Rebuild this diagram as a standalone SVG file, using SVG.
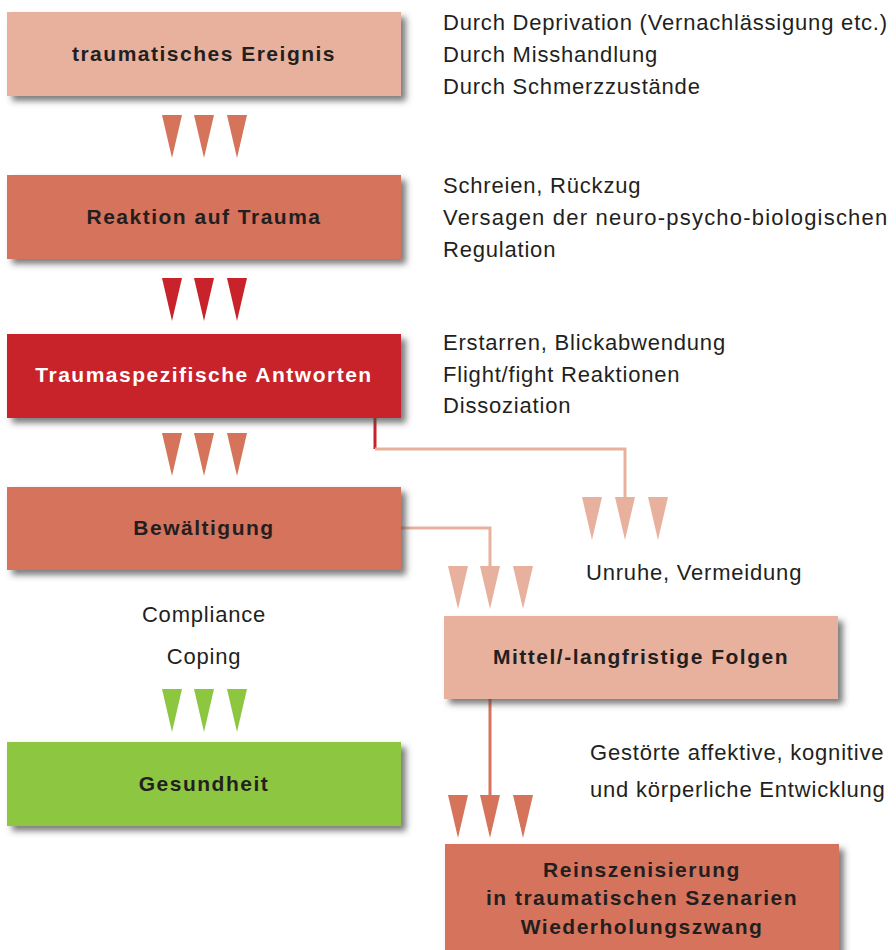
<svg xmlns="http://www.w3.org/2000/svg" width="896" height="950" viewBox="0 0 896 950">
<defs>
<filter id="sh" x="-5%" y="-10%" width="115%" height="130%">
<feDropShadow dx="5" dy="5" stdDeviation="3" flood-color="#444" flood-opacity="0.7"/>
</filter>
<style>
.bl{font-family:"Liberation Sans",Arial,sans-serif;font-weight:bold;font-size:21px;letter-spacing:1.5px;text-anchor:middle;fill:#231f20}
.bw{fill:#fff}
.tx{font-family:"Liberation Sans",Arial,sans-serif;font-size:22px;letter-spacing:0.8px;fill:#231f20}
.c1{fill:#E8B19D}.c2{fill:#D6735B}.c3{fill:#C8232B}.c4{fill:#8DC63F}
</style>
<polygon id="tri" points="-10,0 10,0 0,43"/>
</defs>
<rect width="896" height="950" fill="#fff"/>
<g id="connectors" fill="none" stroke-width="3">
<polyline points="375,418 375,449" stroke="#C8232B"/>
<polyline points="375,449 625,449 625,500" stroke="#E8B19D"/>
<polyline points="401,528 490,528 490,570" stroke="#E8B19D"/>
<polyline points="490,699 490,800" stroke="#D6735B"/>
</g>
<g id="arrows">
<g class="c2"><use href="#tri" x="172" y="115"/><use href="#tri" x="204" y="115"/><use href="#tri" x="237" y="115"/></g>
<g class="c3"><use href="#tri" x="172" y="278"/><use href="#tri" x="204" y="278"/><use href="#tri" x="237" y="278"/></g>
<g class="c2"><use href="#tri" x="172" y="433"/><use href="#tri" x="204" y="433"/><use href="#tri" x="237" y="433"/></g>
<g class="c4"><use href="#tri" x="172" y="689"/><use href="#tri" x="204" y="689"/><use href="#tri" x="237" y="689"/></g>
<g class="c1"><use href="#tri" x="592" y="497"/><use href="#tri" x="625" y="497"/><use href="#tri" x="658" y="497"/></g>
<g class="c1"><use href="#tri" x="458" y="566"/><use href="#tri" x="490" y="566"/><use href="#tri" x="523" y="566"/></g>
<g class="c2"><use href="#tri" x="458" y="795"/><use href="#tri" x="490" y="795"/><use href="#tri" x="523" y="795"/></g>
</g>
<g id="n1"><rect x="7" y="12" width="394" height="84" class="c1" filter="url(#sh)"/><text x="204" y="61" class="bl">traumatisches Ereignis</text></g>
<g id="n2"><rect x="7" y="175" width="394" height="84" class="c2" filter="url(#sh)"/><text x="204" y="224" class="bl">Reaktion auf Trauma</text></g>
<g id="n3"><rect x="7" y="334" width="394" height="84" class="c3" filter="url(#sh)"/><text x="204" y="382" class="bl bw">Traumaspezifische Antworten</text></g>
<g id="n4"><rect x="7" y="487" width="394" height="83" class="c2" filter="url(#sh)"/><text x="204" y="535" class="bl">Bewältigung</text></g>
<g id="n5"><rect x="7" y="742" width="394" height="84" class="c4" filter="url(#sh)"/><text x="204" y="791" class="bl">Gesundheit</text></g>
<g id="n6"><rect x="444" y="616" width="394" height="83" class="c1" filter="url(#sh)"/><text x="641" y="664" class="bl">Mittel/-langfristige Folgen</text></g>
<g id="n7"><rect x="445" y="844" width="394" height="110" class="c2" filter="url(#sh)"/><text x="642" y="877" class="bl">Reinszenisierung</text><text x="642" y="905" class="bl">in traumatischen Szenarien</text><text x="642" y="934" class="bl">Wiederholungszwang</text></g>
<g id="labels">
<text x="443" y="30" class="tx">Durch Deprivation (Vernachlässigung etc.)</text>
<text x="443" y="62" class="tx">Durch Misshandlung</text>
<text x="443" y="94" class="tx">Durch Schmerzzustände</text>
<text x="443" y="193" class="tx">Schreien, Rückzug</text>
<text x="443" y="225" class="tx" textLength="445" lengthAdjust="spacing">Versagen der neuro-psycho-biologischen</text>
<text x="443" y="257" class="tx">Regulation</text>
<text x="443" y="350" class="tx">Erstarren, Blickabwendung</text>
<text x="443" y="382" class="tx">Flight/fight Reaktionen</text>
<text x="443" y="413" class="tx">Dissoziation</text>
<text x="586" y="580" class="tx">Unruhe, Vermeidung</text>
<text x="204" y="622" class="tx" text-anchor="middle">Compliance</text>
<text x="204" y="664" class="tx" text-anchor="middle">Coping</text>
<text x="590" y="760" class="tx">Gestörte affektive, kognitive</text>
<text x="590" y="797" class="tx">und körperliche Entwicklung</text>
</g>
</svg>
